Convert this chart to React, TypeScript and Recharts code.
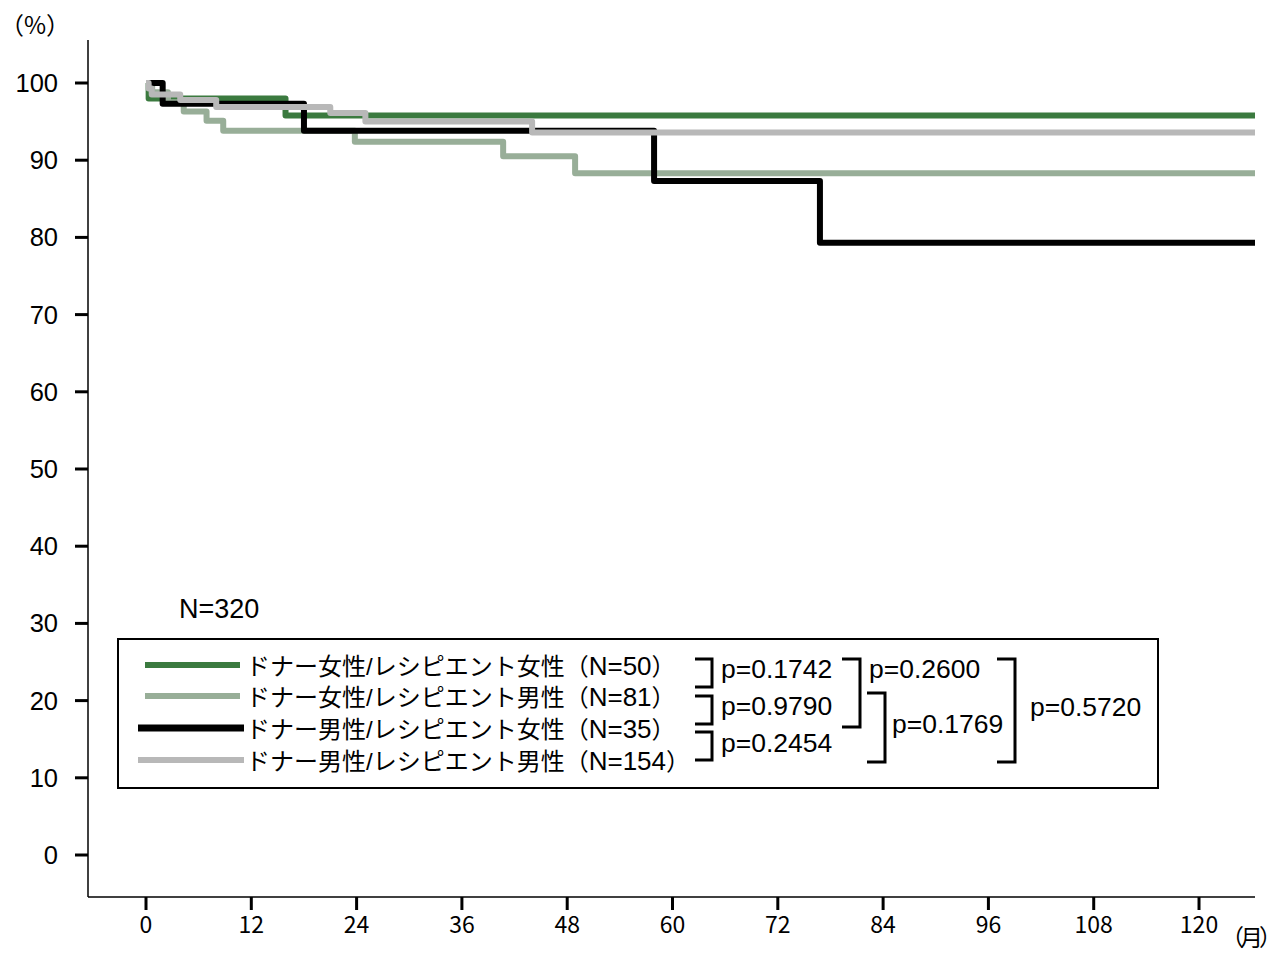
import { LineChart, Line, XAxis, YAxis } from 'recharts';

// months since transplant / survival (%)
const MONTH_TICKS = [0, 12, 24, 36, 48, 60, 72, 84, 96, 108, 120];
const PCT_TICKS = [0, 10, 20, 30, 40, 50, 60, 70, 80, 90, 100];

const FF_TIME = [0, 0.3, 15.9, 126.4];
const FF_SURV = [100, 98, 95.8, 95.8];

const FM_TIME = [0, 0.7, 2.5, 4.3, 6.9, 8.8, 23.8, 40.7, 48.9, 126.4];
const FM_SURV = [100, 98.8, 97.5, 96.3, 95.1, 93.8, 92.4, 90.5, 88.3, 88.3];

const MF_TIME = [0, 1.9, 18.0, 57.9, 76.8, 126.4];
const MF_SURV = [100, 97.3, 93.8, 87.3, 79.3, 79.3];

const MM_TIME = [0, 0.3, 0.65, 3.9, 8.0, 21.0, 25.0, 44.0, 126.4];
const MM_SURV = [100, 99.3, 98.5, 97.8, 96.9, 96.1, 95.0, 93.6, 93.6];

const SERIES_GROUPS = [
  'ドナー女性/レシピエント女性',
  'ドナー女性/レシピエント男性',
  'ドナー男性/レシピエント女性',
  'ドナー男性/レシピエント男性',
];
const SERIES_N = ['N=50', 'N=81', 'N=35', 'N=154'];
const SERIES_COLORS = ['#3b7a3f', '#98ae98', '#000000', '#b8b8b8'];

const P_VALUES = ['p=0.1742', 'p=0.9790', 'p=0.2454', 'p=0.2600', 'p=0.1769', 'p=0.5720'];
const TOTAL_N = 'N=320';

const zip = (t: number[], s: number[]) => t.map((x, i) => ({ t: x, v: s[i] }));
const SERIES = [
  zip(FF_TIME, FF_SURV),
  zip(FM_TIME, FM_SURV),
  zip(MF_TIME, MF_SURV),
  zip(MM_TIME, MM_SURV),
];

const LATIN = '"Liberation Sans", Arial, "Noto Sans CJK JP", sans-serif';
const JP = '"Noto Sans CJK JP", sans-serif';

const LEGEND_Y = [665, 696, 728, 760];

function Bracket({ x1, x2, y1, y2 }: { x1: number; x2: number; y1: number; y2: number }) {
  return (
    <path
      d={`M${x1},${y1} H${x2} V${y2} H${x1}`}
      fill="none"
      stroke="#000"
      strokeWidth={3}
    />
  );
}

function Annotations() {
  return (
    <svg
      width={1274}
      height={945}
      style={{ position: 'absolute', left: 0, top: 0, pointerEvents: 'none', overflow: 'visible' }}
    >
      <g transform="translate(-8,-8)">
        <text x={0} y={34} fontFamily={JP} fontSize={24} fill="#000">（%）</text>
        <text x={1221} y={946} fontFamily={JP} fontSize={23} letterSpacing={-4} fill="#000">（月）</text>

        <text x={179} y={618} fontFamily={LATIN} fontSize={27} fill="#000">{TOTAL_N}</text>

        <rect x={118} y={639} width={1040} height={149} fill="#fff" stroke="#000" strokeWidth={2} />
        {SERIES_GROUPS.map((name, i) => (
          <g key={name}>
            <line
              x1={i >= 2 ? 138 : 145}
              x2={i >= 2 ? 244 : 240}
              y1={LEGEND_Y[i]}
              y2={LEGEND_Y[i]}
              stroke={SERIES_COLORS[i]}
              strokeWidth={i === 2 ? 7 : 6}
            />
            <text x={246} y={LEGEND_Y[i] + 10} fontFamily={LATIN} fontSize={24} fill="#000">
              {name}（<tspan fontSize={26}>{SERIES_N[i]}</tspan>）
            </text>
          </g>
        ))}

        <Bracket x1={695} x2={712} y1={659} y2={687} />
        <Bracket x1={695} x2={712} y1={696} y2={724} />
        <Bracket x1={695} x2={712} y1={732} y2={760} />
        <Bracket x1={842} x2={860} y1={659} y2={727} />
        <Bracket x1={867} x2={885} y1={693} y2={762} />
        <Bracket x1={997} x2={1015} y1={659} y2={762} />

        <g fontFamily={LATIN} fontSize={26.5} fill="#000">
          <text x={721} y={678}>{P_VALUES[0]}</text>
          <text x={721} y={715}>{P_VALUES[1]}</text>
          <text x={721} y={752}>{P_VALUES[2]}</text>
          <text x={869} y={678}>{P_VALUES[3]}</text>
          <text x={892} y={733}>{P_VALUES[4]}</text>
          <text x={1030} y={716}>{P_VALUES[5]}</text>
        </g>
      </g>
    </svg>
  );
}

export default function App() {
  return (
    <div style={{ position: 'relative', width: 1266, height: 945 }}>
      <LineChart width={1266} height={945} margin={{ top: 32, right: 19, left: 0, bottom: 0 }}>
        <XAxis
          dataKey="t"
          type="number"
          domain={[-6.61, 126.38]}
          ticks={MONTH_TICKS}
          interval={0}
          allowDataOverflow
          height={56}
          tickSize={13}
          tickMargin={7}
          axisLine={{ stroke: '#000', strokeWidth: 1.5 }}
          tickLine={{ stroke: '#000', strokeWidth: 3 }}
          tick={{ fill: '#000', fontSize: 23, fontFamily: JP }}
        />
        <YAxis
          type="number"
          domain={[-5.44, 105.57]}
          ticks={PCT_TICKS}
          interval={0}
          allowDataOverflow
          width={80}
          tickSize={13}
          tickMargin={17}
          axisLine={{ stroke: '#000', strokeWidth: 1.5 }}
          tickLine={{ stroke: '#000', strokeWidth: 3 }}
          tick={{ fill: '#000', fontSize: 25.5, fontFamily: LATIN }}
        />
        {SERIES.map((data, i) => (
          <Line
            key={SERIES_GROUPS[i]}
            data={data}
            dataKey="v"
            type="stepAfter"
            stroke={SERIES_COLORS[i]}
            strokeWidth={6}
            strokeLinejoin="round"
            dot={false}
            activeDot={false}
            isAnimationActive={false}
          />
        ))}
      </LineChart>
      <Annotations />
    </div>
  );
}
